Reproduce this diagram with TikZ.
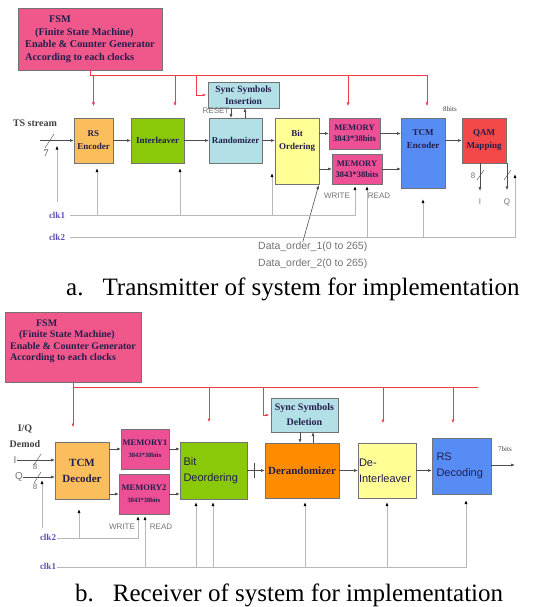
\documentclass[tikz,border=0pt]{standalone}
\usepackage{fontspec}
\setmainfont{Liberation Serif}
\setsansfont{Liberation Sans}
\usetikzlibrary{arrows.meta}

\definecolor{fsmpink}{RGB}{240,88,140}
\definecolor{mempink}{RGB}{238,80,150}
\definecolor{rsorange}{RGB}{251,190,92}
\definecolor{intgreen}{RGB}{138,200,10}
\definecolor{syncblue}{RGB}{178,224,230}
\definecolor{bityellow}{RGB}{255,255,150}
\definecolor{tcmblue}{RGB}{88,140,245}
\definecolor{qamred}{RGB}{245,72,72}
\definecolor{derorange}{RGB}{255,140,0}
\definecolor{ctlred}{RGB}{238,60,75}
\definecolor{clkblue}{RGB}{90,80,185}
\definecolor{boxtext}{RGB}{35,30,75}

\begin{document}
\begin{tikzpicture}[x=1pt,y=-1pt,
  >={Latex[length=4pt,width=3pt]},
  blk/.style={draw=black!55, line width=0.6pt, inner sep=1pt, outer sep=0pt, align=center, text=boxtext, font=\bfseries\fontsize{9}{13}\selectfont},
  sansblk/.style={blk, align=left, font=\sffamily\fontsize{11}{16}\selectfont},
  dat/.style={draw=black!70, line width=0.6pt, ->},
  clk/.style={draw=black!28, line width=0.9pt},
  clkin/.style={clk, -{Latex[length=4pt,width=3pt,color=black]}, shorten >=5pt},
  ctl/.style={draw=ctlred, line width=0.5pt},
  ctlin/.style={ctl, -{Latex[length=3.5pt,width=3pt]}, shorten >=12pt},
  lbl/.style={text=black!55, font=\sffamily\fontsize{8}{9}\selectfont, inner sep=0pt},
  ser/.style={text=black!75, font=\bfseries\fontsize{10}{12}\selectfont, inner sep=0pt},
  clklbl/.style={text=clkblue, font=\bfseries\fontsize{9}{10}\selectfont, inner sep=0pt},
  captext/.style={font=\fontsize{25}{27}\selectfont, inner sep=0pt, anchor=base west}]
\fill[white] (0,0) rectangle (536,607); % background
\useasboundingbox (0,0) rectangle (536,607);

% ---------------- a. transmitter ----------------
\node[blk, fill=fsmpink, minimum width=144pt, minimum height=62pt, align=left, font=\bfseries\fontsize{10.3}{12.5}\selectfont] (fsma) at (90,39)
  {\hspace*{24pt}FSM\\\hspace*{10pt}(Finite State Machine)\\Enable \& Counter Generator\\According to each clocks};
\node[blk, fill=rsorange, minimum width=39pt, minimum height=45pt] (rsenc) at (93.5,140.5) {RS\\Encoder};
\node[blk, fill=intgreen, minimum width=53pt, minimum height=45pt] (intl) at (157.5,140.5) {Interleaver};
\node[blk, fill=syncblue, minimum width=53pt, minimum height=45pt] (rand) at (235.5,140.5) {Randomizer};
\node[blk, fill=syncblue, minimum width=71pt, minimum height=26pt, font=\bfseries\fontsize{9.5}{12}\selectfont] (synci) at (243.5,95) {Sync Symbols\\Insertion};
\node[blk, fill=bityellow, minimum width=44pt, minimum height=66pt] (bitord) at (297,151) {Bit\\Ordering\\[10pt]~};
\node[blk, fill=mempink, minimum width=51pt, minimum height=31pt, font=\bfseries\fontsize{8.5}{11}\selectfont] (mema) at (354.5,133.5) {MEMORY\\3843*38bits};
\node[blk, fill=mempink, minimum width=50pt, minimum height=30pt, font=\bfseries\fontsize{8.5}{11}\selectfont] (memb) at (357,169) {MEMORY\\3843*38bits};
\node[blk, fill=tcmblue, minimum width=44pt, minimum height=70pt] (tcme) at (423,153) {TCM\\Encoder\\[14pt]~};
\node[blk, fill=qamred, minimum width=44pt, minimum height=45pt] (qam) at (484,140.5) {QAM\\Mapping};

\node[ser] (tsin) at (35,123) {TS stream};
\node[ser, font=\fontsize{10}{12}\selectfont] (tsw) at (46,153) {7};
\node[lbl] (rst) at (216,111) {RESET};
\node[lbl] (wra) at (337,196) {WRITE};
\node[lbl] (rda) at (379,196) {READ};
\node[ser, font=\fontsize{7}{8}\selectfont] (bits8) at (450,109) {8bits};
\node[lbl] (qi) at (480,202) {I};
\node[lbl] (qq) at (507,202) {Q};
\node[lbl] (qw) at (473,176) {8};
\node[lbl, anchor=west, font=\sffamily\fontsize{10.5}{12}\selectfont] (dorda) at (258,247) {Data\_order\_1(0 to 265)};
\node[lbl, anchor=west, font=\sffamily\fontsize{10.5}{12}\selectfont] (dordb) at (258,264) {Data\_order\_2(0 to 265)};
\node[clklbl] (clka1) at (57,215) {clk1};
\node[clklbl] (clka2) at (57,237) {clk2};
\coordinate (tsa) at (40,140.5);
\coordinate (tsclk) at (57,202);
\coordinate (ca1) at (70,215);
\coordinate (ca2) at (70,237);
\coordinate (qclk) at (515,174);
\coordinate (bittap) at (272,173);
\coordinate (busa) at (90,75);

% FSM control
\draw[ctl] (fsma.south) -- (busa) -- (busa -| 427,0);
\draw[ctlin] (busa -| rsenc.north) -- (rsenc.north);
\draw[ctlin] (busa -| 175,0) -- (intl.north -| 175,0);
\draw[ctlin, shorten >=2pt] (busa -| 196,0) |- (synci.west);
\draw[ctlin] (busa -| 348,0) -- (mema.north -| 348,0);
\draw[ctlin] (busa -| 427,0) -- (tcme.north -| 427,0);

% data path
\draw[dat] (tsa) -- (rsenc.west);
\draw[black!70] (45,148) -- (54,134); % bus width
\draw[dat] (rsenc) -- (intl);
\draw[dat] (intl) -- (rand);
\draw[dat] (rand) -- (rand -| bitord.west);
\draw[dat] (synci.south -| 231,0) -- (rand.north -| 231,0);
\draw[dat] (rand.north -| 245,0) -- (synci.south -| 245,0);
\draw[dat] (bitord.east |- mema) -- (mema);
\draw[dat] (bitord.east |- memb) -- (memb);
\draw[dat] (mema) -- (mema -| tcme.west);
\draw[dat] (memb) -- (memb -| tcme.west);
\draw[dat] (tcme.east |- qam) -- (qam);
\draw[dat, shorten >=8pt] (qam.south -| qi) -- (qi);
\draw[dat, shorten >=8pt] (qam.south -| qq) -- (qq);
\draw[black!70] (477,180) -- (484,170); % I width
\draw[black!70] (504,180) -- (511,170); % Q width
\draw[dat, shorten >=1pt] ([xshift=-10pt]dorda.north) -- (bitord.south east);

% clocks
\draw[clkin] (tsclk) -- (tsa -| tsclk);
\draw[clkin, shorten >=2pt] (ca1) -| (memb.south -| 355,0); % WRITE
\draw[clkin] (ca1 -| 97,0) -- (rsenc.south -| 97,0);
\draw[clkin] (ca1 -| 180,0) -- (intl.south -| 180,0);
\draw[clkin, shorten >=0pt] (ca1 -| bittap) -- (bittap);
\draw[clkin, shorten >=0pt] (ca2) -| (qclk);
\draw[clkin, shorten >=2pt] (ca2 -| 367,0) -- (memb.south -| 367,0); % READ
\draw[clkin, shorten >=11pt] (ca2 -| 423,0) -- (tcme.south);

\node[captext] (capa) at (66,295) {a.\hspace{19pt}Transmitter of system for implementation};

% ---------------- b. receiver ----------------
\node[blk, fill=fsmpink, minimum width=136pt, minimum height=70pt, align=left, font=\bfseries\fontsize{10}{11.5}\selectfont] (fsmb) at (73,347)
  {\hspace*{26pt}FSM\\\hspace*{9pt}(Finite State Machine)\\Enable \& Counter Generator\\According to each clocks\\[2pt]~};
\node[blk, fill=rsorange, minimum width=54pt, minimum height=57pt, font=\bfseries\fontsize{11}{16}\selectfont] (tcmd) at (82,470.5) {TCM\\Decoder};
\node[blk, fill=mempink, minimum width=48pt, minimum height=40pt, font=\bfseries\fontsize{8.5}{12}\selectfont] (memc) at (145,449) {MEMORY1\\{\fontsize{6.5}{8}\selectfont 3843*38bits}};
\node[blk, fill=mempink, minimum width=50pt, minimum height=40pt, font=\bfseries\fontsize{8.5}{12}\selectfont] (memd) at (144,494) {MEMORY2\\{\fontsize{6.5}{8}\selectfont 3843*38bits}};
\node[sansblk, fill=intgreen, minimum width=67pt, minimum height=57pt, text width=60pt] (bitde) at (213.5,470.5) {Bit\\Deordering};
\node[blk, fill=syncblue, minimum width=67pt, minimum height=34pt, font=\bfseries\fontsize{10}{15}\selectfont] (syncd) at (304.5,415) {Sync Symbols\\Deletion};
\node[blk, fill=derorange, minimum width=74pt, minimum height=55pt, font=\bfseries\fontsize{11}{13}\selectfont] (derand) at (302,470.5) {Derandomizer};
\node[sansblk, fill=bityellow, minimum width=58pt, minimum height=55pt, text width=56pt] (deint) at (387,470.5) {De-\\Interleaver};
\node[sansblk, fill=tcmblue, minimum width=59pt, minimum height=56pt, text width=50pt] (rsdec) at (461.5,466) {RS\\Decoding};

\node[ser, align=center, font=\bfseries\fontsize{10}{16}\selectfont] (iqd) at (25,436) {I/Q\\Demod};
\node[lbl, font=\sffamily\fontsize{10}{12}\selectfont] (iin) at (15,460) {I};
\node[lbl, font=\sffamily\fontsize{10}{12}\selectfont] (qin) at (19,477) {Q};
\node[lbl] (iw) at (35,467) {8};
\node[lbl] (qw2) at (35,487) {8};
\node[lbl] (wrb) at (122,527) {WRITE};
\node[lbl] (rdb) at (161,527) {READ};
\node[ser, font=\fontsize{7}{8}\selectfont] (bits7) at (505,449) {7bits};
\node[clklbl] (clkb2) at (48,537) {clk2};
\node[clklbl] (clkb1) at (48,566) {clk1};
\coordinate (qclkb) at (42,528);
\coordinate (cb2) at (57,538);
\coordinate (cb1) at (57,567);
\coordinate (rsout) at (515,465);
\coordinate (busb) at (73,387);

% FSM control
\draw[ctl] (fsmb.south) -- (busb) -- (busb -| 478,0);
\draw[ctlin, shorten >=15pt] (busb) -- (busb |- tcmd.north);
\draw[ctlin, shorten >=20pt] (busb -| 209,0) -- (bitde.north -| 209,0);
\draw[ctlin, shorten >=2pt] (busb -| 263,0) |- (syncd.west);
\draw[ctlin, shorten >=20pt] (busb -| 383,0) -- (deint.north -| 383,0);
\draw[ctlin, shorten >=15pt] (busb -| 453,0) -- (rsdec.north -| 453,0);

% data path
\draw[dat] (iin) -- (iin -| tcmd.west);
\draw[dat] (qin) -- (qin -| tcmd.west);
\draw[black!70] (34,465) -- (41,454); % I width
\draw[black!70] (34,483) -- (41,472); % Q width
\draw[dat] (tcmd.east |- memc) -- (memc);
\draw[dat] (tcmd.east |- memd) -- (memd);
\draw[dat] (memc) -- (memc -| bitde.west);
\draw[dat] (memd) -- (memd -| bitde.west);
\draw[dat] (bitde) -- (derand);
\draw[black!70] (254,463) -- (254,478); % tick
\draw[dat] (syncd.south -| 300,0) -- (derand.north -| 300,0);
\draw[dat] (derand.north -| 313,0) -- (syncd.south -| 313,0);
\draw[dat] (derand) -- (deint);
\draw[dat] (deint) -- (deint -| rsdec.west);
\draw[dat] (rsdec.east |- rsout) -- (rsout);

% clocks
\draw[clkin, shorten >=3pt] (qclkb) -- (qin -| qclkb);
\draw[clkin, shorten >=2pt] (cb2) -| (memd.south -| 138,0); % WRITE
\draw[clkin, shorten >=10pt] (cb2 -| 79,0) -- (tcmd.south -| 79,0);
\draw[clkin, shorten >=6pt] (cb1) -| (rsdec.south -| 466,0);
\draw[clkin, shorten >=2pt] (cb1 -| 145,0) -- (memd.south -| 145,0); % READ
\draw[clkin, shorten >=3pt] (cb1 -| 196,0) -- (bitde.south -| 196,0);
\draw[clkin, shorten >=3pt] (cb1 -| 213,0) -- (bitde.south -| 213,0);
\draw[clkin, shorten >=4pt] (cb1 -| 305,0) -- (derand.south -| 305,0);
\draw[clkin, shorten >=4pt] (cb1 -| 387,0) -- (deint.south -| 387,0);

\node[captext] (capb) at (75,601) {b.\hspace{19pt}Receiver of system for implementation};
\end{tikzpicture}
\end{document}
